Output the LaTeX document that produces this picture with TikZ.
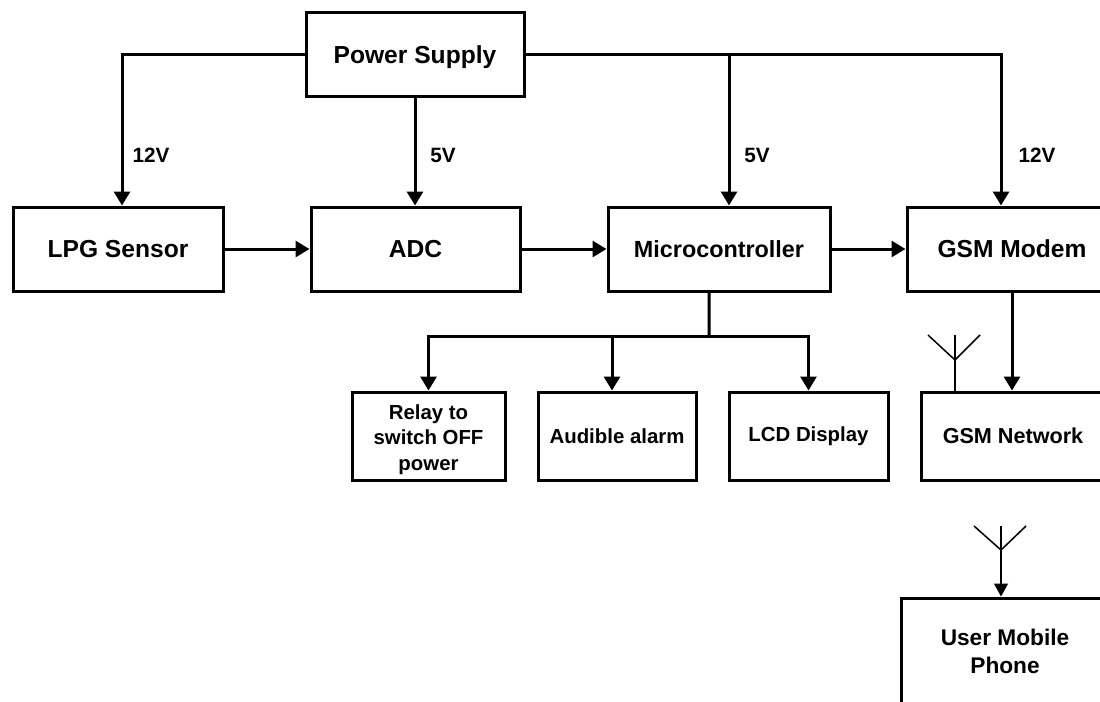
\documentclass[tikz,border=0pt]{standalone}
\usepackage{fontspec}
\setmainfont{Liberation Sans}
\usetikzlibrary{arrows.meta}
\begin{document}
\begin{tikzpicture}[
	blocco/.style={draw,line width=0.06cm,align=center,font=\bfseries,inner sep=0pt},
	grande/.style={blocco,font=\fontsize{14}{17}\bfseries,minimum height=1.68cm},
	piccolo/.style={blocco,font=\fontsize{11.6}{14.6}\bfseries,minimum height=1.76cm},
	tensione/.style={font=\fontsize{11.8}{14}\bfseries},
	freccia/.style={line width=0.06cm,-{Triangle[length=0.28cm,width=0.32cm]}},
	linea/.style={line width=0.06cm},
	antenna/.style={line width=0.03cm}]
\clip(0,0)rectangle(22,-14.02);
% Nodo alimentazione
\draw(8.30,-1.09)node[grande,minimum width=4.36cm,text depth=0pt](node power){Power Supply}
		 % Riga dei blocchi principali
		 (2.36,-4.98)node[grande,minimum width=4.2cm](node lpg){LPG Sensor}
		 (8.31,-4.98)node[grande,minimum width=4.18cm](node adc){ADC}
		 (14.38,-4.98)node[grande,minimum width=4.44cm,font=\fontsize{13.3}{16}\bfseries](node micro){Microcontroller}
		 (20.24,-4.98)node[grande,minimum width=4.2cm](node modem){GSM Modem}
		 % Riga delle uscite
		 (8.57,-8.72)node[piccolo,minimum width=3.06cm](node relay){\rule{0pt}{12.4pt}Relay to\\switch OFF\\power}
		 (12.34,-8.72)node[piccolo,minimum width=3.16cm](node alarm){Audible alarm}
		 (16.17,-8.72)node[piccolo,minimum width=3.18cm](node lcd){LCD Display}
		 (20.26,-8.72)node[piccolo,minimum width=3.68cm,font=\fontsize{12.3}{15}\bfseries](node network){GSM Network}
		 % Nodo telefono
		 (20.10,-13.03)node[blocco,minimum height=2.14cm,minimum width=4.16cm,font=\fontsize{12.9}{16}\bfseries](node phone){User Mobile\\Phone};

% Tensioni
\draw(3.02,-3.10)node[tensione](label lpg){12V}
		 (8.86,-3.10)node[tensione](label adc){5V}
		 (15.14,-3.10)node[tensione](label micro){5V}
		 (20.74,-3.10)node[tensione](label modem){12V};

% Frecce da alimentazione
\draw[freccia](node power.west)-|([xshift=0.08cm]node lpg.north);
\draw[freccia](node power.south)--(node power.south|-node adc.north);
\draw[freccia](node power.east)-|([xshift=0.2cm]node micro.north);
\draw[freccia](node power.east)-|([xshift=-0.22cm]node modem.north);

% Frecce tra i blocchi
\draw[freccia](node lpg)--(node adc);
\draw[freccia](node adc)--(node micro);
\draw[freccia](node micro)--(node modem);
\draw[freccia](node modem.south)--(node modem.south|-node network.north);

% Ramo verso le uscite
\coordinate(branch) at (14.18,-6.72);
\draw[linea]([xshift=-0.2cm]node micro.south)--(branch);
\draw[freccia](branch)-|(node relay.north);
\draw[freccia](branch)-|([xshift=-0.1cm]node alarm.north);
\draw[freccia](branch)-|(node lcd.north);

% Antenna rete
\coordinate(ant network) at (19.10,-7.20);
\draw[antenna](ant network)--(ant network|-node network.north);
\draw[antenna](ant network)--++(0,0.50);
\draw[antenna](ant network)--++(-0.54,0.50);
\draw[antenna](ant network)--++(0.50,0.50);

% Antenna telefono
\coordinate(ant phone) at (20.02,-11.00);
\draw[antenna,-{Triangle[length=0.26cm,width=0.28cm]}](ant phone)--(ant phone|-node phone.north);
\draw[antenna](ant phone)--++(0,0.48);
\draw[antenna](ant phone)--++(-0.54,0.48);
\draw[antenna](ant phone)--++(0.50,0.48);
\end{tikzpicture}
\end{document}
